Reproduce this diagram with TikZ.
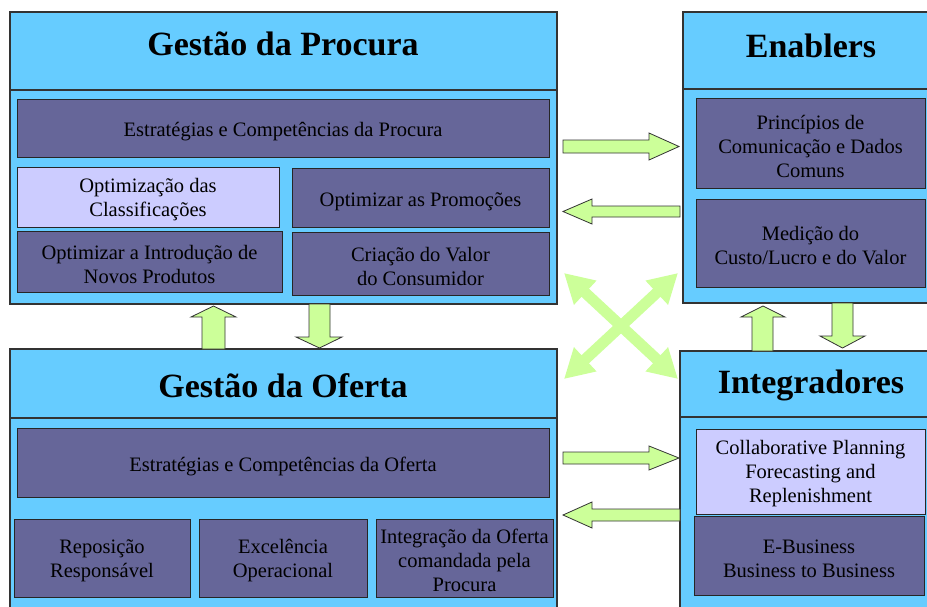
\documentclass[tikz,border=0pt]{standalone}
\usepackage{fontspec}
\setmainfont{Liberation Serif}
\usetikzlibrary{arrows.meta}
\definecolor{outerblue}{HTML}{66CCFF}
\definecolor{innerpurple}{HTML}{666699}
\definecolor{lightlav}{HTML}{CCCCFF}
\definecolor{arrowgreen}{HTML}{CCFF99}
\definecolor{edgegray}{HTML}{333333}
\begin{document}
\begin{tikzpicture}[x=1pt,y=-1pt,
 outerbox/.style={draw=edgegray, line width=1.2pt, fill=outerblue, inner sep=0pt, outer sep=0pt},
 divline/.style={draw=edgegray, line width=1.2pt},
 innerbox/.style={draw=black!85, line width=1pt, fill=innerpurple, inner sep=0pt, outer sep=0pt},
 lightbox/.style={innerbox, fill=lightlav},
 boxtext/.style={inner sep=0pt, align=center, font=\rmfamily\fontsize{20.5}{24}\selectfont},
 sz/.style 2 args={minimum width=#1pt, minimum height=#2pt},
 titletext/.style={font=\rmfamily\fontsize{34}{40}\selectfont\bfseries, anchor=base, inner sep=0pt},
 blockarrow/.style={draw=edgegray, line width=0.8pt, fill=arrowgreen, line join=miter},
 crossarrow/.style={draw=arrowgreen, line width=11pt, {Triangle[length=29pt,width=31pt]}-{Triangle[length=29pt,width=31pt]}}
]
\clip (0,0) rectangle (927,606);
\fill[white] (0,0) rectangle (927,606);

% outer boxes
\node[outerbox, sz={547}{292}] (procura) at (283.5,158) {};
\node[outerbox, sz={249}{291}] (enablers) at (807.5,157.5) {};
\node[outerbox, sz={547}{266}] (oferta) at (283.5,482) {};
\node[outerbox, sz={252}{264}] (integ) at (806,483) {};

\coordinate (pdiv) at (0,90);
\coordinate (edivc) at (0,89);
\coordinate (odiv) at (0,418);
\coordinate (idiv) at (0,417);
\draw[divline] (procura.west |- pdiv) -- (procura.east |- pdiv);
\draw[divline] (enablers.west |- edivc) -- (enablers.east |- edivc);
\draw[divline] (oferta.west |- odiv) -- (oferta.east |- odiv);
\draw[divline] (integ.west |- idiv) -- (integ.east |- idiv);

% titles
\node[titletext] (procuraT) at (283,55) {Gestão da Procura};
\node[titletext] (enablersT) at (811,57) {Enablers};
\node[titletext] (ofertaT) at (283,397) {Gestão da Oferta};
\node[titletext] (integT) at (811,393) {Integradores};

% inner boxes: Procura
\node[innerbox, sz={532}{58}] (estP) at (283,128) {};
\node[lightbox, sz={262}{60}] (optC) at (148,197) {};
\node[innerbox, sz={257}{59}] (optP) at (420.5,197.5) {};
\node[innerbox, sz={265}{61}] (optI) at (149.5,261.5) {};
\node[innerbox, sz={257}{63}] (criV) at (420.5,263.5) {};
% Enablers
\node[innerbox, sz={229}{90}] (prin) at (810.5,143) {};
\node[innerbox, sz={229}{88}] (medi) at (810.5,243) {};
% Oferta
\node[innerbox, sz={532}{69}] (estO) at (283,462.5) {};
\node[innerbox, sz={176}{78}] (repo) at (102,558) {};
\node[innerbox, sz={168}{78}] (exce) at (283,558) {};
\node[innerbox, sz={177}{78}] (inte) at (464.5,558) {};
% Integradores
\node[lightbox, sz={229}{85}] (colab) at (810.5,471.5) {};
\node[innerbox, sz={230}{79}] (ebus) at (809,555.5) {};

% texts
\node[boxtext] (estPt) at ([yshift=-4pt]estP.center) {Estratégias e Competências da Procura};
\node[boxtext] (optCt) at ([yshift=-3pt]optC.center) {Optimização das\\Classificações};
\node[boxtext] (optPt) at ([yshift=-4pt]optP.center) {Optimizar as Promoções};
\node[boxtext] (optIt) at ([yshift=-3pt]optI.center) {Optimizar a Introdução de\\Novos Produtos};
\node[boxtext] (criVt) at ([yshift=-3pt]criV.center) {Criação do Valor\\do Consumidor};
\node[boxtext] (print) at ([yshift=-3pt]prin.center) {Princípios de\\Comunicação e Dados\\Comuns};
\node[boxtext] (medit) at ([yshift=-3pt]medi.center) {Medição do\\Custo/Lucro e do Valor};
\node[boxtext] (estOt) at ([yshift=-4pt]estO.center) {Estratégias e Competências da Oferta};
\node[boxtext] (repot) at ([yshift=-3pt]repo.center) {Reposição\\Responsável};
\node[boxtext] (excet) at ([yshift=-3pt]exce.center) {Excelência\\Operacional};
\node[boxtext] (intet) at ([yshift=-2pt]inte.center) {Integração da Oferta\\comandada pela\\Procura};
\node[boxtext] (colabt) at ([yshift=-2pt]colab.center) {Collaborative Planning\\Forecasting and\\Replenishment};
\node[boxtext] (ebust) at ([yshift=-3pt]ebus.center) {E-Business\\Business to Business};

% horizontal block arrows
\draw[blockarrow] (563,140) -- (649,140) -- (649,133) -- (679,146.5) -- (649,160) -- (649,153) -- (563,153) -- cycle;
\draw[blockarrow] (680,206) -- (592,206) -- (592,199) -- (563,211.5) -- (592,224) -- (592,217) -- (680,217) -- cycle;
\draw[blockarrow] (563,452) -- (649,452) -- (649,446) -- (679,458) -- (649,470) -- (649,464) -- (563,464) -- cycle;
\draw[blockarrow] (680,509) -- (592,509) -- (592,502) -- (563,515) -- (592,528) -- (592,521) -- (680,521) -- cycle;

% vertical block arrows
\draw[blockarrow] (202,349) -- (202,317) -- (191,317) -- (213.5,306) -- (236,317) -- (225,317) -- (225,349) -- cycle;
\draw[blockarrow] (309,304) -- (309,337) -- (296,337) -- (319.5,348) -- (342,337) -- (330,337) -- (330,304) -- cycle;
\draw[blockarrow] (752,351) -- (752,317) -- (741,317) -- (763,306) -- (785,317) -- (773,317) -- (773,351) -- cycle;
\draw[blockarrow] (832,303) -- (832,336) -- (820,336) -- (842.5,348) -- (865,336) -- (853,336) -- (853,303) -- cycle;

% crossing arrows
\coordinate (xul) at (564,273);
\coordinate (xlr) at (678,379);
\coordinate (xur) at (678,273);
\coordinate (xll) at (564,379);
\draw[crossarrow] (xul) -- (xlr);
\draw[crossarrow] (xur) -- (xll);
\end{tikzpicture}
\end{document}
